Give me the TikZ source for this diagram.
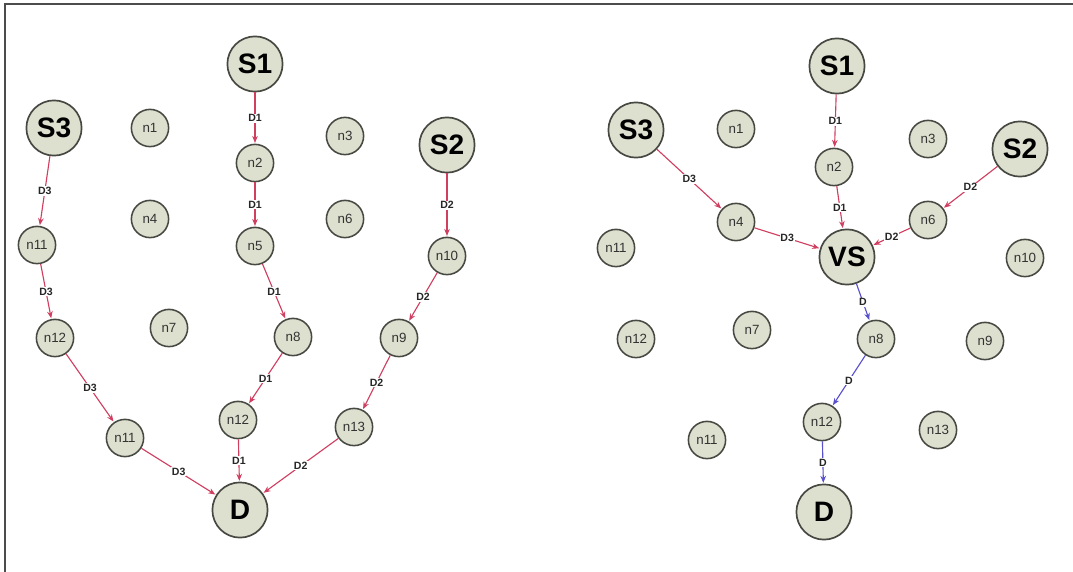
\documentclass[tikz,border=0pt]{standalone}
\usepackage{fontspec}
\setmainfont{Liberation Sans}
\usetikzlibrary{positioning, arrows.meta}
\definecolor{nodefill}{RGB}{222,224,207}
\definecolor{nodeedge}{RGB}{70,72,66}
\definecolor{redpath}{RGB}{208,62,96}
\definecolor{bluepath}{RGB}{88,80,205}
\tikzset{
  big/.style={
    draw=nodeedge, circle, line width=1.2pt,
    minimum size=1.38cm, inner sep=0pt,
    fill=nodefill, font=\fontsize{20}{20}\selectfont\bfseries
  },
  sml/.style={
    draw=nodeedge, circle, line width=1.1pt,
    minimum size=0.93cm, inner sep=0pt,
    fill=nodefill, text=black!80, font=\fontsize{9.5}{10}\selectfont
  },
  hop/.style={fill=white, inner sep=0.6pt, text=black!85, font=\fontsize{7.5}{8}\selectfont\bfseries},
  redarr/.style={-{Stealth[length=5pt,width=4pt]}, line width=0.8pt, redpath, shorten >=0.5pt},
  bluarr/.style={-{Stealth[length=5pt,width=4pt]}, line width=0.8pt, bluepath, shorten >=0.5pt},
}

\begin{document}
\begin{tikzpicture}[x=0.025cm, y=-0.025cm]
    \useasboundingbox (0,0) rectangle (1073,572);
    \draw[line width=1.2pt, black!70] (5,572) -- (5,4) -- (1073,4);

    % left: three separate paths to D
    \node[big] (lS1)  at (255,64)  {S1};
    \node[big] (lS3)  at (54,128)  {S3};
    \node[big] (lS2)  at (447,145) {S2};
    \node[sml] (ln1)  at (150,128) {n1};
    \node[sml] (ln3)  at (345,136) {n3};
    \node[sml] (ln2)  at (255,163) {n2};
    \node[sml] (ln4)  at (150,219) {n4};
    \node[sml] (ln6)  at (345,219) {n6};
    \node[sml] (ln5)  at (255,246) {n5};
    \node[sml] (ln10) at (447,256) {n10};
    \node[sml] (ln11) at (37,245)  {n11};
    \node[sml] (ln12) at (55,338)  {n12};
    \node[sml] (ln7)  at (169,328) {n7};
    \node[sml] (ln8)  at (293,337) {n8};
    \node[sml] (ln9)  at (399,338) {n9};
    \node[sml] (lm11) at (125,438) {n11};
    \node[sml] (lm12) at (238,420) {n12};
    \node[sml] (ln13) at (354,427) {n13};
    \node[big] (lD)   at (240,510) {D};

    \draw[redarr] (lS1)  -- node[hop] {D1} (ln2);
    \draw[redarr] (ln2)  -- node[hop] {D1} (ln5);
    \draw[redarr] (ln5)  -- node[hop] {D1} (ln8);
    \draw[redarr] (ln8)  -- node[hop] {D1} (lm12);
    \draw[redarr] (lm12) -- node[hop] {D1} (lD);
    \draw[redarr] (lS3)  -- node[hop] {D3} (ln11);
    \draw[redarr] (ln11) -- node[hop] {D3} (ln12);
    \draw[redarr] (ln12) -- node[hop] {D3} (lm11);
    \draw[redarr] (lm11) -- node[hop] {D3} (lD);
    \draw[redarr] (lS2)  -- node[hop] {D2} (ln10);
    \draw[redarr] (ln10) -- node[hop] {D2} (ln9);
    \draw[redarr] (ln9)  -- node[hop] {D2} (ln13);
    \draw[redarr] (ln13) -- node[hop] {D2} (lD);

    % right: paths merged at VS
    \node[big] (rS1)  at (837,66)  {S1};
    \node[big] (rS3)  at (636,130) {S3};
    \node[big] (rS2)  at (1020,149) {S2};
    \node[sml] (rn1)  at (736,129) {n1};
    \node[sml] (rn3)  at (928,139) {n3};
    \node[sml] (rn2)  at (834,167) {n2};
    \node[sml] (rn4)  at (736,222) {n4};
    \node[sml] (rn6)  at (928,220) {n6};
    \node[big] (rVS)  at (847,257) {VS};
    \node[sml] (rn11) at (616,248) {n11};
    \node[sml] (rn10) at (1025,258) {n10};
    \node[sml] (rn12) at (636,339) {n12};
    \node[sml] (rn7)  at (752,330) {n7};
    \node[sml] (rn8)  at (876,339) {n8};
    \node[sml] (rn9)  at (985,341) {n9};
    \node[sml] (rm12) at (822,422) {n12};
    \node[sml] (rm11) at (707,440) {n11};
    \node[sml] (rn13) at (938,430) {n13};
    \node[big] (rD)   at (824,512) {D};

    \draw[redarr] (rS1) -- node[hop] {D1} (rn2);
    \draw[redarr] (rn2) -- node[hop] {D1} (rVS);
    \draw[redarr] (rS3) -- node[hop] {D3} (rn4);
    \draw[redarr] (rn4) -- node[hop] {D3} (rVS);
    \draw[redarr] (rS2) -- node[hop] {D2} (rn6);
    \draw[redarr] (rn6) -- node[hop] {D2} (rVS);
    \draw[bluarr] (rVS)  -- node[hop] {D} (rn8);
    \draw[bluarr] (rn8)  -- node[hop] {D} (rm12);
    \draw[bluarr] (rm12) -- node[hop] {D} (rD);
\end{tikzpicture}
\end{document}
